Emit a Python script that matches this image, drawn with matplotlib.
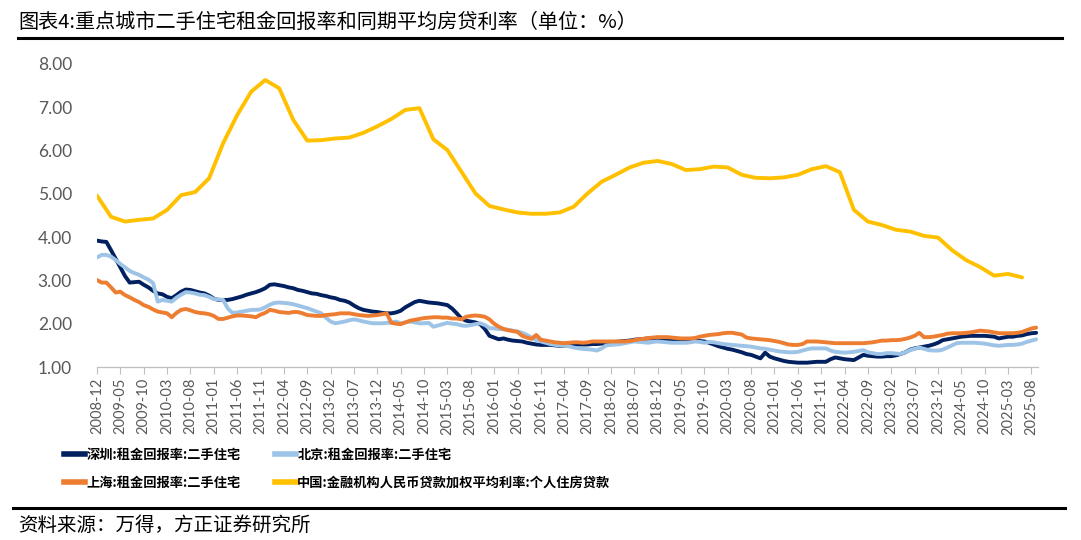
import numpy as np
import pandas as pd
import matplotlib
matplotlib.use("Agg")
import matplotlib.pyplot as plt
from matplotlib.lines import Line2D

plt.rcParams['font.family'] = ['Noto Sans CJK SC', 'DejaVu Sans']

# 月度类别：2008-12 至 2025-09
months = [str(p) for p in pd.period_range('2008-12', '2025-09', freq='M')]

# 深圳:租金回报率:二手住宅 (%)
shenzhen = [3.92,
    3.90, 3.89, 3.70, 3.50, 3.30, 3.10, 2.95, 2.96, 2.97, 2.90, 2.84, 2.76,  # 2009
    2.70, 2.68, 2.62, 2.59, 2.66, 2.74, 2.79, 2.78, 2.75, 2.72, 2.70, 2.65,  # 2010
    2.58, 2.55, 2.55, 2.55, 2.57, 2.60, 2.63, 2.67, 2.70, 2.73, 2.77, 2.82,  # 2011
    2.90, 2.91, 2.89, 2.87, 2.84, 2.82, 2.78, 2.76, 2.73, 2.70, 2.69, 2.66,  # 2012
    2.64, 2.61, 2.59, 2.55, 2.53, 2.49, 2.42, 2.36, 2.32, 2.30, 2.28, 2.27,  # 2013
    2.25, 2.24, 2.24, 2.26, 2.30, 2.38, 2.44, 2.50, 2.53, 2.51, 2.49, 2.48,  # 2014
    2.47, 2.45, 2.43, 2.35, 2.24, 2.12, 2.07, 2.05, 2.03, 1.99, 1.88, 1.72,  # 2015
    1.68, 1.64, 1.66, 1.63, 1.61, 1.60, 1.59, 1.56, 1.54, 1.52, 1.51, 1.51,  # 2016
    1.51, 1.50, 1.49, 1.49, 1.50, 1.51, 1.52, 1.52, 1.52, 1.53, 1.53, 1.54,  # 2017
    1.55, 1.57, 1.58, 1.59, 1.60, 1.61, 1.63, 1.64, 1.65, 1.66, 1.66, 1.65,  # 2018
    1.64, 1.64, 1.63, 1.62, 1.62, 1.62, 1.62, 1.61, 1.60, 1.59, 1.56, 1.52,  # 2019
    1.48, 1.45, 1.42, 1.40, 1.37, 1.34, 1.30, 1.28, 1.24, 1.20, 1.33, 1.24,  # 2020
    1.20, 1.17, 1.14, 1.12, 1.11, 1.10, 1.10, 1.10, 1.11, 1.12, 1.12, 1.12,  # 2021
    1.18, 1.22, 1.20, 1.18, 1.17, 1.16, 1.22, 1.28, 1.26, 1.25, 1.24, 1.24,  # 2022
    1.25, 1.25, 1.27, 1.30, 1.34, 1.40, 1.43, 1.45, 1.47, 1.49, 1.52, 1.56,  # 2023
    1.62, 1.64, 1.66, 1.68, 1.70, 1.71, 1.72, 1.72, 1.72, 1.72, 1.71, 1.70,  # 2024
    1.66, 1.68, 1.70, 1.70, 1.72, 1.73, 1.76, 1.78, 1.79]                    # 2025

# 北京:租金回报率:二手住宅 (%)
beijing = [3.53,
    3.59, 3.59, 3.55, 3.47, 3.38, 3.30, 3.22, 3.17, 3.13, 3.07, 3.02, 2.94,
    2.51, 2.55, 2.53, 2.51, 2.60, 2.67, 2.73, 2.72, 2.70, 2.67, 2.66, 2.62,
    2.57, 2.56, 2.55, 2.35, 2.25, 2.26, 2.28, 2.30, 2.32, 2.32, 2.33, 2.38,
    2.44, 2.48, 2.49, 2.48, 2.47, 2.45, 2.42, 2.39, 2.36, 2.32, 2.28, 2.24,
    2.14, 2.05, 2.01, 2.03, 2.05, 2.08, 2.10, 2.08, 2.05, 2.03, 2.01, 2.01,
    2.01, 2.02, 2.03, 2.05, 2.01, 2.03, 2.05, 2.03, 2.01, 2.01, 2.02, 1.93,
    1.96, 1.99, 2.02, 2.00, 1.99, 1.96, 1.95, 1.97, 1.99, 2.01, 1.97, 1.90,
    1.89, 1.88, 1.87, 1.86, 1.84, 1.82, 1.79, 1.74, 1.68, 1.62, 1.59, 1.56,
    1.53, 1.51, 1.50, 1.49, 1.48, 1.45, 1.43, 1.42, 1.41, 1.40, 1.38, 1.43,
    1.50, 1.51, 1.52, 1.53, 1.55, 1.57, 1.59, 1.58, 1.57, 1.56, 1.58, 1.59,
    1.58, 1.57, 1.56, 1.56, 1.56, 1.56, 1.57, 1.59, 1.58, 1.56, 1.58, 1.57,
    1.55, 1.53, 1.52, 1.51, 1.50, 1.49, 1.48, 1.47, 1.45, 1.43, 1.42, 1.40,
    1.38, 1.36, 1.35, 1.34, 1.34, 1.35, 1.38, 1.41, 1.43, 1.43, 1.43, 1.43,
    1.38, 1.35, 1.34, 1.33, 1.34, 1.35, 1.37, 1.39, 1.34, 1.32, 1.30, 1.30,
    1.32, 1.32, 1.31, 1.30, 1.34, 1.39, 1.42, 1.45, 1.42, 1.39, 1.38, 1.38,
    1.40, 1.45, 1.50, 1.55, 1.56, 1.56, 1.56, 1.56, 1.55, 1.54, 1.52, 1.50,
    1.49, 1.50, 1.51, 1.51, 1.52, 1.54, 1.58, 1.61, 1.64]

# 上海:租金回报率:二手住宅 (%)
shanghai = [3.01,
    2.95, 2.95, 2.84, 2.72, 2.74, 2.66, 2.61, 2.55, 2.50, 2.43, 2.39, 2.33,
    2.28, 2.26, 2.24, 2.15, 2.25, 2.32, 2.34, 2.31, 2.27, 2.25, 2.24, 2.22,
    2.18, 2.11, 2.11, 2.14, 2.17, 2.19, 2.19, 2.18, 2.17, 2.15, 2.21, 2.25,
    2.32, 2.30, 2.27, 2.26, 2.25, 2.27, 2.27, 2.24, 2.20, 2.19, 2.18, 2.18,
    2.20, 2.21, 2.22, 2.24, 2.24, 2.24, 2.22, 2.20, 2.19, 2.18, 2.19, 2.20,
    2.22, 2.24, 2.02, 2.00, 1.99, 2.03, 2.07, 2.09, 2.11, 2.13, 2.14, 2.15,
    2.15, 2.14, 2.14, 2.12, 2.12, 2.10, 2.16, 2.18, 2.19, 2.18, 2.16, 2.10,
    2.00, 1.93, 1.88, 1.85, 1.83, 1.81, 1.72, 1.68, 1.65, 1.74, 1.63, 1.61,
    1.59, 1.57, 1.56, 1.55, 1.56, 1.57, 1.57, 1.56, 1.57, 1.59, 1.59, 1.59,
    1.59, 1.59, 1.59, 1.59, 1.59, 1.60, 1.62, 1.64, 1.65, 1.67, 1.68, 1.69,
    1.69, 1.69, 1.68, 1.67, 1.66, 1.66, 1.66, 1.67, 1.70, 1.72, 1.74, 1.75,
    1.76, 1.78, 1.79, 1.79, 1.77, 1.75, 1.68, 1.66, 1.65, 1.64, 1.63, 1.62,
    1.60, 1.58, 1.55, 1.52, 1.51, 1.51, 1.53, 1.59, 1.59, 1.59, 1.58, 1.57,
    1.56, 1.55, 1.55, 1.55, 1.55, 1.55, 1.55, 1.55, 1.56, 1.57, 1.59, 1.61,
    1.61, 1.62, 1.62, 1.63, 1.65, 1.68, 1.72, 1.79, 1.69, 1.69, 1.70, 1.72,
    1.74, 1.77, 1.78, 1.78, 1.78, 1.79, 1.80, 1.82, 1.84, 1.83, 1.82, 1.80,
    1.78, 1.78, 1.78, 1.78, 1.79, 1.81, 1.85, 1.89, 1.91]

# 中国:金融机构人民币贷款加权平均利率:个人住房贷款 (%)，季度，2008-12 至 2025-06
loan_rate = [4.96,
    4.47, 4.36, 4.40, 4.43,   # 2009
    4.63, 4.97, 5.04, 5.36,   # 2010
    6.17, 6.82, 7.36, 7.63,   # 2011
    7.44, 6.71, 6.23, 6.24,   # 2012
    6.28, 6.30, 6.41, 6.56,   # 2013
    6.73, 6.94, 6.98, 6.26,   # 2014
    6.01, 5.51, 5.01, 4.72,   # 2015
    4.64, 4.57, 4.54, 4.54,   # 2016
    4.57, 4.70, 5.01, 5.28,   # 2017
    5.44, 5.61, 5.72, 5.76,   # 2018
    5.69, 5.55, 5.57, 5.63,   # 2019
    5.61, 5.44, 5.37, 5.36,   # 2020
    5.38, 5.44, 5.57, 5.64,   # 2021
    5.50, 4.63, 4.36, 4.28,   # 2022
    4.17, 4.13, 4.03, 3.99,   # 2023
    3.70, 3.47, 3.31, 3.11,   # 2024
    3.15, 3.07]               # 2025
loan_months = months[::3][:len(loan_rate)]

series_names = ['深圳:租金回报率:二手住宅', '北京:租金回报率:二手住宅',
                '上海:租金回报率:二手住宅', '中国:金融机构人民币贷款加权平均利率:个人住房贷款']
colors = ['#002060', '#9DC3E6', '#ED7D31', '#FFC000']

fig = plt.figure(figsize=(10.81, 5.40), dpi=100)
ax = fig.add_axes([97/1081, 1 - 367/540, (1038 - 97)/1081, (367 - 64)/540])

x = np.arange(len(months))
x_rate = [months.index(m) for m in loan_months]
lw = 2.8
ax.plot(x, shenzhen, color=colors[0], lw=lw, solid_capstyle='round', solid_joinstyle='round')
ax.plot(x, beijing, color=colors[1], lw=lw, solid_capstyle='round', solid_joinstyle='round')
ax.plot(x, shanghai, color=colors[2], lw=lw, solid_capstyle='round', solid_joinstyle='round')
ax.plot(x_rate, loan_rate, color=colors[3], lw=lw, solid_capstyle='round', solid_joinstyle='round')

ax.set_ylim(1, 8)
ax.set_yticks(np.arange(1, 9))
ax.set_yticklabels([f'{v:.2f}' for v in range(1, 9)], fontsize=12.5, color='#595959',
                   family=['Lato', 'DejaVu Sans'])
ax.set_xlim(0, len(months) - 0.6)
ticks = list(range(0, len(months), 5))
ax.set_xticks(ticks)
ax.set_xticklabels([months[i] for i in ticks], rotation=90, fontsize=10.5, color='#595959',
                   family=['Lato', 'DejaVu Sans'])
ax.tick_params(axis='y', length=0, pad=18)
ax.tick_params(axis='x', length=5, width=0.8, color='#bfbfbf', direction='out', pad=3)
for s in ['top', 'right', 'left']:
    ax.spines[s].set_visible(False)
ax.spines['bottom'].set_color('#bfbfbf')
ax.spines['bottom'].set_linewidth(0.9)

# 图例：按行排列 (深圳, 北京 / 上海, 中国)
handles = [Line2D([], [], color=c, lw=4) for c in colors]
order = [0, 2, 1, 3]
leg = fig.legend([handles[i] for i in order], [series_names[i] for i in order],
                 ncol=2, loc='upper left', bbox_to_anchor=(52/1081, 1 - 436/540),
                 frameon=False, handlelength=1.6, handletextpad=0.1, columnspacing=2.6,
                 labelspacing=1.05, prop={'size': 9.5, 'weight': 'bold'})

# 标题与分隔线
fig.text(18/1081, 1 - 22/540, '图表4:重点城市二手住宅租金回报率和同期平均房贷利率（单位：%）',
         fontsize=14.5, va='center', ha='left', color='#000000')
fig.add_artist(Line2D([18/1081, 1062/1081], [1 - 38/540, 1 - 38/540], color='black', lw=2.2))
fig.add_artist(Line2D([13/1081, 1065/1081], [1 - 508/540, 1 - 508/540], color='black', lw=2.2))
fig.text(18/1081, 1 - 525/540, '资料来源：万得，方正证券研究所', fontsize=14,
         va='center', ha='left', color='#000000')

fig.savefig('out.png', dpi=100)
